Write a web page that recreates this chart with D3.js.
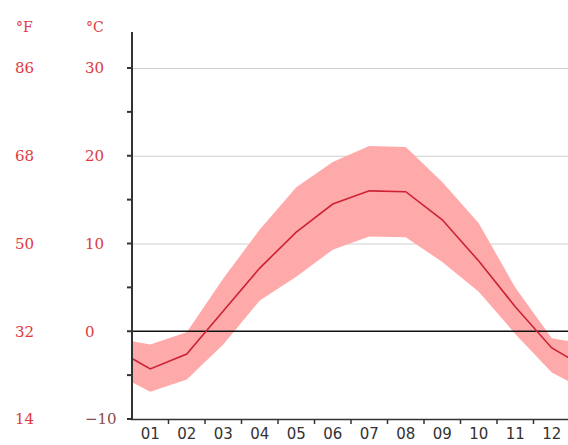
<!DOCTYPE html>
<html>
<head>
<meta charset="utf-8">
<script src="https://cdn.jsdelivr.net/npm/d3@7"></script>
<style>
  html, body { margin: 0; padding: 0; background: #fff; }
  svg { display: block; }
</style>
</head>
<body>
<script>
const width = 568, height = 445;

// monthly data (°C)
const months = ["01", "02", "03", "04", "05", "06", "07", "08", "09", "10", "11", "12"];
const meanTemp = [-4.3, -2.6, 2.3, 7.2, 11.3, 14.5, 16.0, 15.9, 12.7, 8.0, 2.8, -1.9];
const maxTemp = [-1.5, -0.1, 6.0, 11.6, 16.4, 19.3, 21.1, 21.0, 17.0, 12.3, 5.0, -0.8];
const minTemp = [-6.9, -5.5, -1.5, 3.5, 6.2, 9.3, 10.8, 10.7, 7.9, 4.5, -0.3, -4.7];

// axis labels
const ticksC = [30, 20, 10, 0, -10];
const ticksF = [86, 68, 50, 32, 14];
const minorTicksC = [30, 25, 20, 15, 10, 5, 0, -5, -10];

const red = "#e0383f";

const x = d3.scaleBand().domain(months).range([132, 570]);
const y = d3.scaleLinear().domain([-10, 30]).range([419, 68]);

// wrap the curve at both edges using the Dec/Jan average
function edgePoints(vals) {
  const edge = (vals[0] + vals[vals.length - 1]) / 2;
  const pts = [[x.range()[0], edge]];
  months.forEach((m, i) => pts.push([x(m) + x.bandwidth() / 2, vals[i]]));
  pts.push([x.range()[1], edge]);
  return pts;
}

const svg = d3.create("svg")
    .attr("width", width)
    .attr("height", height)
    .attr("viewBox", [0, 0, width, height]);

// grid lines
svg.append("g")
  .selectAll("line")
  .data(ticksC.filter(d => d > 0))
  .join("line")
    .attr("x1", x.range()[0])
    .attr("x2", x.range()[1])
    .attr("y1", d => y(d) + 0.5)
    .attr("y2", d => y(d) + 0.5)
    .attr("stroke", "#cfcfcf")
    .attr("stroke-width", 1);

// band between min and max
const hi = edgePoints(maxTemp), lo = edgePoints(minTemp);
const band = hi.map((p, i) => ({ x: p[0], hi: p[1], lo: lo[i][1] }));
svg.append("path")
    .datum(band)
    .attr("fill", "#ffaaaa")
    .attr("d", d3.area().x(d => d.x).y0(d => y(d.lo)).y1(d => y(d.hi)));

// zero line
svg.append("line")
    .attr("x1", x.range()[0])
    .attr("x2", x.range()[1])
    .attr("y1", y(0))
    .attr("y2", y(0))
    .attr("stroke", "#111")
    .attr("stroke-width", 1.5);

// mean line
svg.append("path")
    .datum(edgePoints(meanTemp))
    .attr("fill", "none")
    .attr("stroke", "#cc2233")
    .attr("stroke-width", 1.6)
    .attr("d", d3.line().x(d => d[0]).y(d => y(d[1])));

// y axis
svg.append("line")
    .attr("x1", 132).attr("x2", 132)
    .attr("y1", 32).attr("y2", 420)
    .attr("stroke", "#333")
    .attr("stroke-width", 2);
svg.append("g")
  .selectAll("line")
  .data(minorTicksC)
  .join("line")
    .attr("x1", 127).attr("x2", 132)
    .attr("y1", d => y(d)).attr("y2", d => y(d))
    .attr("stroke", "#333")
    .attr("stroke-width", 2);

// x axis
svg.append("line")
    .attr("x1", 131).attr("x2", 570)
    .attr("y1", 419.5).attr("y2", 419.5)
    .attr("stroke", "#333")
    .attr("stroke-width", 1.5);
svg.append("g")
  .selectAll("line")
  .data(months.slice(1))
  .join("line")
    .attr("x1", d => x(d)).attr("x2", d => x(d))
    .attr("y1", 419).attr("y2", 424)
    .attr("stroke", "#333")
    .attr("stroke-width", 1.5);
svg.append("g")
  .selectAll("text")
  .data(months)
  .join("text")
    .attr("x", d => x(d) + x.bandwidth() / 2)
    .attr("y", 439)
    .attr("text-anchor", "middle")
    .attr("font-family", "DejaVu Sans")
    .attr("font-size", 15)
    .attr("fill", "#333")
    .text(d => d);

// °F / °C labels
const labelFont = "DejaVu Serif";
svg.append("text")
    .attr("x", 16).attr("y", 32)
    .attr("font-family", labelFont).attr("font-size", 14)
    .attr("fill", red).text("°F");
svg.append("text")
    .attr("x", 86).attr("y", 32)
    .attr("font-family", labelFont).attr("font-size", 14)
    .attr("fill", red).text("°C");

svg.append("g")
  .selectAll("text")
  .data(ticksF)
  .join("text")
    .attr("x", 15)
    .attr("y", (d, i) => y(ticksC[i]))
    .attr("dy", "0.36em")
    .attr("font-family", labelFont)
    .attr("font-size", 15)
    .attr("fill", red)
    .text(d => d);

svg.append("g")
  .selectAll("text")
  .data(ticksC)
  .join("text")
    .attr("x", 85)
    .attr("y", d => y(d))
    .attr("dy", "0.36em")
    .attr("font-family", labelFont)
    .attr("font-size", 15)
    .attr("fill", d => d < 0 ? "#8a4c4c" : red)
    .text(d => d < 0 ? "\u2212" + Math.abs(d) : d);

document.body.appendChild(svg.node());
</script>
</body>
</html>
